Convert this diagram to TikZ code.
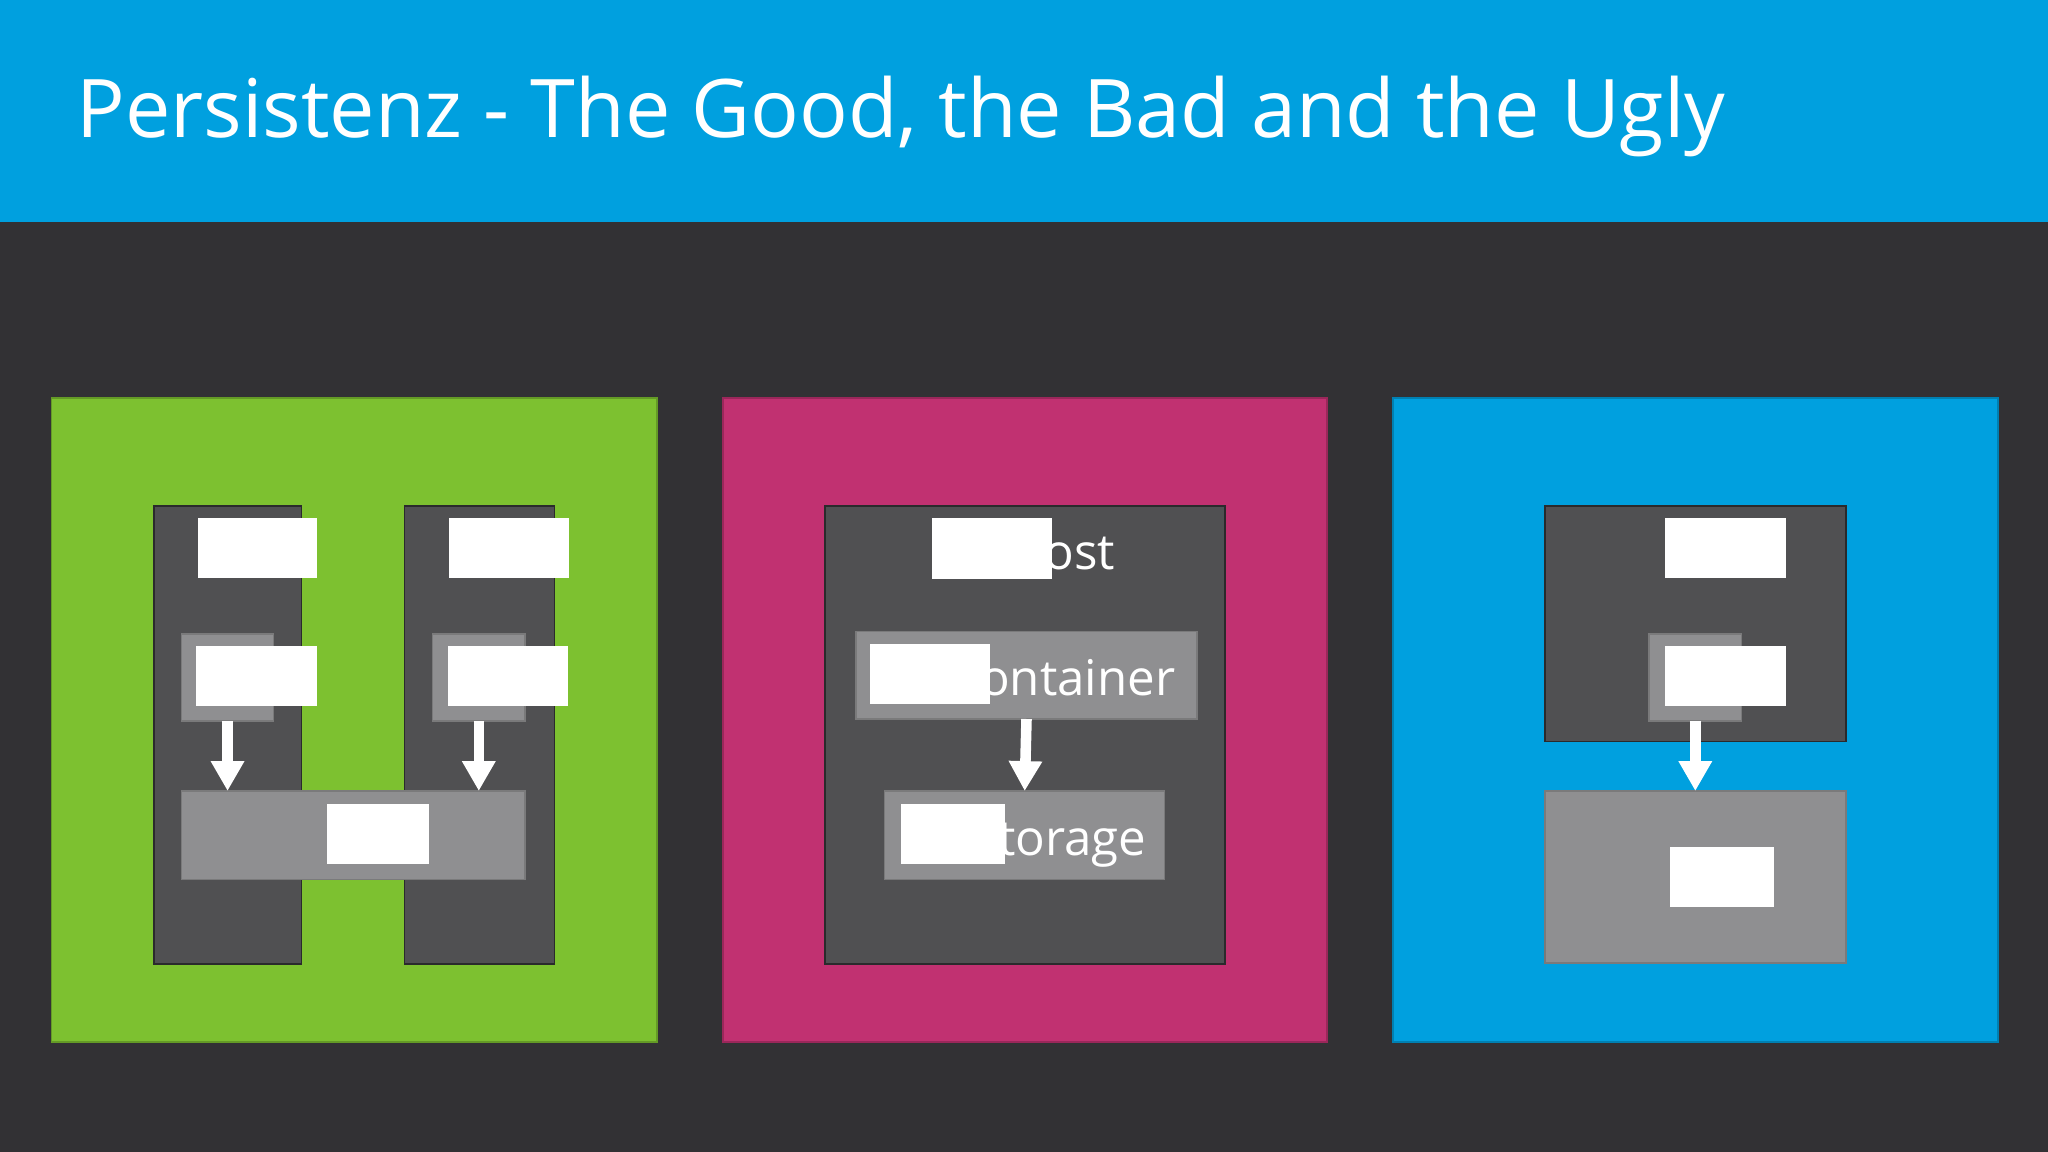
\documentclass[tikz,border=0pt]{standalone}
\usepackage{fontspec}
\setmainfont{Open Sans}
\usetikzlibrary{arrows.meta,fit}

\definecolor{slidebg}{RGB}{50,49,52}
\definecolor{banner}{RGB}{0,160,223}
\definecolor{good}{RGB}{125,193,48}
\definecolor{bad}{RGB}{193,49,113}
\definecolor{ugly}{RGB}{0,160,223}
\definecolor{hostgrey}{RGB}{80,80,82}
\definecolor{partgrey}{RGB}{143,143,145}

\tikzset{
	boxbase/.style={rectangle, inner sep=0pt, outer sep=0pt},
	panel/.style={boxbase, fill=#1, draw=#1!80!black, line width=0.4pt},
	hostbox/.style={boxbase, fill=hostgrey, draw=slidebg!85!black, line width=0.4pt},
	partbox/.style={boxbase, fill=partgrey, draw=partgrey!85!black, line width=0.4pt},
	mask/.style={boxbase, fill=white},
	label/.style={inner sep=0pt, text=white, font=\fontsize{14}{16}\selectfont},
	flow/.style={draw=white, line width=3pt, -{Triangle[length=8.5pt, width=9pt]}}
}

\begin{document}
\begin{tikzpicture}[x=0.01cm, y=-0.01cm]
\fill[slidebg] (0, 0) rectangle (2048, 1152);
\useasboundingbox (0, 0) rectangle (2048, 1152);
\fill[banner] (0, 0) rectangle (2048, 222);

\node[anchor=base west, inner sep=0pt, text=white, font=\fontsize{23}{27}\selectfont] (title) at (76, 138) {Persistenz - The Good, the Bad and the Ugly};

% the good
\node[panel=good, fit={(51.4, 398) (657, 1042)}] (goodpanel) {};
\node[hostbox, fit={(154, 506) (301.6, 964)}] (colL) {};
\node[hostbox, fit={(404.5, 506) (554.7, 964)}] (colR) {};
\node[partbox, fit={(181.6, 634) (273.5, 721)}] (appL) {};
\node[partbox, fit={(432.6, 634) (525, 721)}] (appR) {};
\node[partbox, fit={(181.6, 791) (525, 879.6)}] (volG) {};
\node[mask, fit={(197.6, 518) (317, 578)}] (maskL1) {};
\node[mask, fit={(448.6, 518) (569, 578)}] (maskR1) {};
\node[mask, fit={(196, 646) (317, 706)}] (maskL2) {};
\node[mask, fit={(447.8, 646) (568, 706)}] (maskR2) {};
\node[mask, fit={(326.5, 804) (429, 864.4)}] (maskV) {};
\draw[flow] (appL.south) -- (appL.south |- volG.north);
\draw[flow] (appR.south) -- (appR.south |- volG.north);

% the bad
\node[panel=bad, fit={(723, 398) (1327, 1042)}] (badpanel) {};
\node[hostbox, fit={(825, 506) (1225, 964)}] (host) {};
\node[partbox, fit={(856, 631.5) (1197, 719)}] (cont) {};
\node[partbox, fit={(884.7, 791) (1164.7, 879.6)}] (stor) {};
\node[label, anchor=base east] (hostlbl) at (1116, 569.5) {ost};
\node[label, anchor=base east] (contlbl) at (1176, 695.7) {ontainer};
\node[label, anchor=base east] (storlbl) at (1147, 855.7) {torage};
\node[mask, fit={(932, 518) (1051.6, 578.6)}] (maskH) {};
\node[mask, fit={(870, 644) (990, 704)}] (maskC) {};
\node[mask, fit={(901, 804) (1004.7, 864.4)}] (maskS) {};
\draw[flow] (cont.south) -- (stor.north);

% the ugly
\node[panel=ugly, fit={(1393, 398) (1998, 1042)}] (uglypanel) {};
\node[hostbox, fit={(1545, 506) (1846, 741.7)}] (hostU) {};
\node[partbox, fit={(1649, 634) (1741.6, 721)}] (appU) {};
\node[partbox, fit={(1545, 791) (1846, 963)}] (volU) {};
\node[mask, fit={(1665, 518) (1786, 578)}] (maskU1) {};
\node[mask, fit={(1665, 646) (1786, 706)}] (maskU2) {};
\node[mask, fit={(1670, 847) (1773.5, 907)}] (maskU3) {};
\draw[flow] (appU.south) -- (appU.south |- volU.north);
\end{tikzpicture}
\end{document}
